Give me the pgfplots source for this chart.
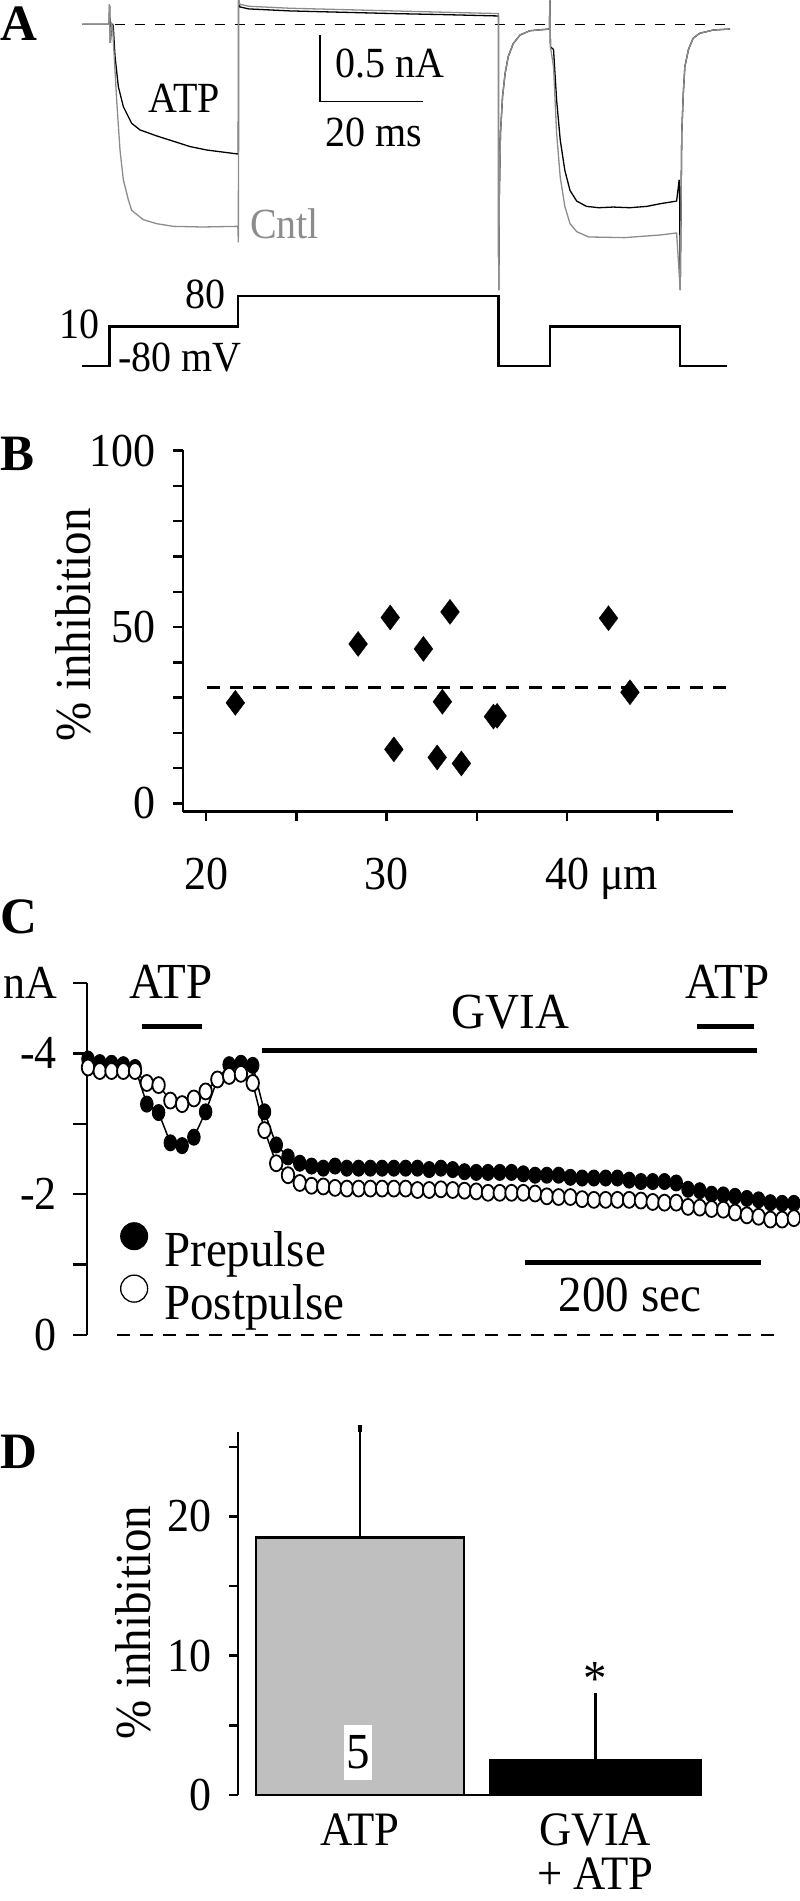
\documentclass[border=0pt]{standalone}
\usepackage{fontspec}
\setmainfont{Liberation Serif}[FakeStretch=0.93]
\newfontfamily\letterfont{Liberation Serif}
\usepackage{pgfplots}
\pgfplotsset{compat=1.18}

\newcommand\fA{\fontsize{43}{50}\selectfont}
\newcommand\fT{\fontsize{47.3}{55}\selectfont}
\newcommand\fL{\fontsize{50.5}{60}\selectfont}
\newcommand\fD{\fontsize{48}{56}\selectfont}
\newcommand\fP{\letterfont\fontsize{51}{58}\selectfont\bfseries}

\definecolor{trgray}{RGB}{140,140,140}
\definecolor{bargray}{RGB}{191,191,191}

\begin{document}
\begin{tikzpicture}
\useasboundingbox (0pt,0pt) rectangle (800pt,-1901pt);

% panel letters
\node[anchor=base west, inner sep=0pt, font=\fP] at (0pt,-40pt) {A};
\node[anchor=base west, inner sep=0pt, font=\fP] at (0pt,-470pt) {B};
\node[anchor=base west, inner sep=0pt, font=\fP] at (0pt,-933pt) {C};
\node[anchor=base west, inner sep=0pt, font=\fP] at (0pt,-1468pt) {D};

%================ Panel A: currents
\begin{axis}[at={(0pt,0pt)}, anchor=north west, scale only axis,
  width=800pt, height=300pt,
  xmin=-21.28, xmax=134.06, ymin=-2.074, ymax=0.182,
  axis lines=none, clip=false]
\addplot[black, line width=1.3pt, dash pattern=on 10pt off 10pt] coordinates {(1,0) (120.5,0)};
% ATP trace
\addplot[black, line width=1.3pt] coordinates {
(-5.3,0) (-0.1,0) (0,0.14) (0.15,-0.14) (0.4,0) (0.6,0) (0.72,-0.02) (1.05,-0.24) (1.7,-0.47)
(2.67,-0.62) (4.28,-0.745) (5.9,-0.795) (9.14,-0.84) (12.37,-0.88) (15.6,-0.92) (18.85,-0.946) (24.9,-0.976)
(25,-0.976) (25.05,0.18) (25.3,0.13) (27,0.115) (35,0.1) (45,0.09) (55,0.08) (65,0.072) (75.4,0.062)
(75.5,0.062) (75.55,-2.0) (75.67,-1.3) (75.9,-0.82) (76.3,-0.545) (76.8,-0.37) (77.4,-0.244) (78.4,-0.144)
(79.7,-0.081) (81.6,-0.049) (84.9,-0.038) (85.4,-0.036)
(85.5,0.18) (85.6,-0.17) (86.2,-0.19) (86.8,-0.57) (87.5,-0.87) (88.4,-1.10) (89.4,-1.25) (90.7,-1.33)
(92.6,-1.37) (95,-1.38) (97.8,-1.375) (101,-1.38) (104.3,-1.37) (106.9,-1.35) (110.1,-1.33) (110.6,-1.17)
(110.7,-1.33) (110.8,-2.0)
(111.1,-0.82) (111.4,-0.52) (111.7,-0.32) (112.4,-0.19) (113.3,-0.106) (114.6,-0.068) (117.2,-0.044) (120.5,-0.036)};
% Cntl trace
\addplot[trgray, line width=1.3pt] coordinates {
(-5.3,0) (-0.1,0) (-0.05,0.15) (0.1,-0.14) (0.4,0) (0.6,-0.02) (0.72,-0.12) (1.37,-0.57) (2.02,-0.946)
(2.67,-1.17) (3.64,-1.32) (4.28,-1.40) (6.55,-1.47) (9.14,-1.50) (12.37,-1.52) (18,-1.525) (24.9,-1.52)
(25,-1.64) (25.05,0.18) (25.3,0.15) (27,0.135) (35,0.12) (45,0.11) (55,0.10) (65,0.09) (75.4,0.08)
(75.5,0.08) (75.55,-2.0) (75.67,-1.3) (75.9,-0.82) (76.3,-0.545) (76.8,-0.37) (77.4,-0.244) (78.4,-0.144)
(79.7,-0.081) (81.6,-0.049) (84.9,-0.038) (85.4,-0.036)
(85.5,0.18) (85.6,-0.17) (86.2,-0.32) (86.8,-0.82) (87.5,-1.15) (88.4,-1.37) (89.4,-1.50) (90.7,-1.56)
(93,-1.60) (100,-1.605) (106.9,-1.585) (110.1,-1.57) (110.8,-2.0)
(111.1,-0.82) (111.4,-0.52) (111.7,-0.32) (112.4,-0.19) (113.3,-0.106) (114.6,-0.068) (117.2,-0.044) (120.5,-0.036)};
% scale bar
\addplot[black, line width=1.6pt] coordinates {(40.9,-0.081) (40.9,-0.581) (60.9,-0.581)};
\node[anchor=base, inner sep=0pt, font=\fA] at (axis cs:14.49,-0.665) {ATP};
\node[anchor=base, inner sep=0pt, font=\fA, text=trgray] at (axis cs:33.96,-1.608) {Cntl};
\node[anchor=base, inner sep=0pt, font=\fA] at (axis cs:54.35,-0.399) {0.5 nA};
\node[anchor=base, inner sep=0pt, font=\fA] at (axis cs:51.34,-0.921) {20 ms};
\end{axis}

%================ Panel A: voltage protocol
\begin{axis}[at={(0pt,-280pt)}, anchor=north west, scale only axis,
  width=800pt, height=100pt,
  xmin=-21.28, xmax=134.06, ymin=-111.8, ymax=115.45,
  axis lines=none, clip=false]
\addplot[black, line width=2.2pt] coordinates {
(-5.4,-80) (0,-80) (0,10) (25,10) (25,80) (75.5,80) (75.5,-80) (85.5,-80) (85.5,10) (110.8,10) (110.8,-80) (119.8,-80)};
\node[anchor=base east, inner sep=0pt, font=\fA] at (axis cs:22.6,51.1) {80};
\node[anchor=base east, inner sep=0pt, font=\fA] at (axis cs:-1.86,-17.0) {10};
\node[anchor=base west, inner sep=0pt, font=\fA] at (axis cs:1.63,-92.95) {-80 mV};
\end{axis}

%================ Panel B
\begin{axis}[at={(183pt,-811.7pt)}, anchor=south west, scale only axis,
  width=549.5pt, height=361.7pt,
  xmin=18.72, xmax=49.16, ymin=-2.38, ymax=100.2,
  axis x line*=bottom, axis y line*=left,
  x axis line style={-}, y axis line style={-},
  axis line style={line width=2.5pt},
  tick align=outside, major tick length=9.5pt,
  tick style={line width=2.5pt, black},
  xtick={20,25,...,45}, xticklabels={20,,30,,{40\rlap{\ μm}},},
  ytick={0,10,...,100}, yticklabels={0,,,,,50,,,,,100},
  ticklabel style={font=\fT, inner sep=0pt},
  yticklabel style={anchor=east, xshift=-18pt},
  xticklabel style={anchor=north, yshift=-37pt},
  ylabel={\% inhibition},
  every axis y label/.style={at={(axis description cs:-0.2002,0.5162)}, rotate=90, anchor=center, font=\fL},
  clip=false]
\addplot[black, line width=2.5pt, dash pattern=on 13pt off 10pt] coordinates {(20.05,32.8) (49.16,32.8)};
\addplot[only marks, mark=diamond*, mark size=12.5pt, black] coordinates {
(21.62,28.5) (28.42,45.2) (30.20,52.7) (30.40,15.3) (32.04,43.8) (33.51,54.3) (33.09,28.8)
(32.80,13.0) (34.14,11.3) (35.92,24.6) (36.12,24.8) (42.29,52.5) (43.48,31.5)};
\end{axis}

%================ Panel C
\begin{axis}[at={(87pt,-1335pt)}, anchor=south west, scale only axis,
  width=713pt, height=352pt,
  xmin=-0.85, xmax=605.2, ymin=-5, ymax=0, y dir=reverse,
  axis x line=none, axis y line*=left, y axis line style={-},
  axis line style={line width=2.2pt},
  tick align=outside, major tick length=14pt,
  tick style={line width=2.5pt, black},
  ytick={-5,-4,-3,-2,-1,0}, yticklabels={nA,-4,,-2,,0},
  yticklabel style={font=\fT, inner sep=0pt, anchor=east, xshift=-16pt},
  legend cell align=left,
  legend style={draw=none, fill=none, at={(0.0463,0.3205)}, anchor=north west,
    inner sep=0pt, outer sep=0pt, row sep=6pt, font=\fL,
    nodes={inner sep=0pt},
    /tikz/every odd column/.append style={column sep=16pt}},
  clip=false]
\addplot[black, line width=2pt, dash pattern=on 13pt off 10pt, forget plot] coordinates {(24.6,0) (586,0)};
\addplot[black, line width=5pt, forget plot] coordinates {(45.9,-4.379) (96.9,-4.379)};
\addplot[black, line width=5pt, forget plot] coordinates {(517.6,-4.379) (566.5,-4.379)};
\addplot[black, line width=5pt, forget plot] coordinates {(147.9,-4.038) (568.6,-4.038)};
\addplot[black, line width=5pt, forget plot] coordinates {(371.4,-1.027) (571.7,-1.027)};
\node[anchor=base, inner sep=0pt, font=\fL] at (axis cs:70.5,-4.787) {ATP};
\node[anchor=base, inner sep=0pt, font=\fL] at (axis cs:543.6,-4.787) {ATP};
\node[anchor=base, inner sep=0pt, font=\fL] at (axis cs:359.1,-4.361) {GVIA};
\node[anchor=base, inner sep=0pt, font=\fL] at (axis cs:460.7,-0.341) {200 sec};
% Prepulse
\addplot[black, line width=1.5pt, mark=*, mark size=8pt, mark options={xscale=0.78, fill=black, line width=1pt}, forget plot] coordinates {
(0,-3.92) (10,-3.87) (20,-3.86) (30,-3.84) (40,-3.80) (50,-3.28) (60,-3.16) (70,-2.73) (80,-2.69) (90,-2.81)
(100,-3.17) (110,-3.63) (120,-3.84) (130,-3.86) (140,-3.83) (150,-3.17) (160,-2.70) (170,-2.53) (180,-2.44) (190,-2.40)
(200,-2.37) (210,-2.40) (220,-2.37) (230,-2.37) (240,-2.37) (250,-2.37) (260,-2.37) (270,-2.37) (280,-2.37) (290,-2.35)
(300,-2.37) (310,-2.35) (320,-2.32) (330,-2.31) (340,-2.31) (350,-2.31) (360,-2.31) (370,-2.29) (380,-2.27) (390,-2.27)
(400,-2.27) (410,-2.24) (420,-2.23) (430,-2.23) (440,-2.23) (450,-2.23) (460,-2.20) (470,-2.18) (480,-2.18) (490,-2.18)
(500,-2.16) (510,-2.07) (520,-2.05) (530,-2.00) (540,-1.99) (550,-1.97) (560,-1.94) (570,-1.92) (580,-1.88) (590,-1.87)
(600,-1.87)};
% Postpulse
\addplot[black, line width=1.5pt, mark=*, mark size=8pt, mark options={xscale=0.78, fill=white, line width=1.8pt}, forget plot] coordinates {
(0,-3.80) (10,-3.75) (20,-3.75) (30,-3.75) (40,-3.75) (50,-3.58) (60,-3.55) (70,-3.33) (80,-3.28) (90,-3.36)
(100,-3.46) (110,-3.63) (120,-3.68) (130,-3.71) (140,-3.58) (150,-2.91) (160,-2.44) (170,-2.27) (180,-2.16) (190,-2.12)
(200,-2.11) (210,-2.09) (220,-2.08) (230,-2.08) (240,-2.08) (250,-2.08) (260,-2.08) (270,-2.08) (280,-2.06) (290,-2.06)
(300,-2.07) (310,-2.06) (320,-2.05) (330,-2.04) (340,-2.02) (350,-2.02) (360,-2.02) (370,-2.02) (380,-2.01) (390,-1.97)
(400,-1.96) (410,-1.96) (420,-1.93) (430,-1.92) (440,-1.92) (450,-1.92) (460,-1.92) (470,-1.91) (480,-1.89) (490,-1.88)
(500,-1.88) (510,-1.82) (520,-1.81) (530,-1.79) (540,-1.78) (550,-1.74) (560,-1.70) (570,-1.68) (580,-1.64) (590,-1.64)
(600,-1.66)};
\addlegendimage{legend image code/.code={\draw[black, fill=black, line width=1pt] (0pt,14pt) circle[radius=13.5pt];}}
\addlegendentry{Prepulse}
\addlegendimage{legend image code/.code={\draw[black, fill=white, line width=1.3pt] (0pt,14pt) circle[radius=13.5pt];}}
\addlegendentry{Postpulse}
\end{axis}

%================ Panel D
\begin{axis}[at={(238pt,-1795pt)}, anchor=south west, scale only axis,
  width=498.6pt, height=363.3pt,
  xmin=-0.5183, xmax=1.6, ymin=0, ymax=26.08,
  axis x line*=bottom, axis y line*=left,
  x axis line style={draw=none}, y axis line style={-},
  axis line style={line width=2.5pt},
  tick align=outside, major tick length=9pt,
  ytick={0,5,...,25}, yticklabels={0,,10,,20,},
  ytick style={line width=2.5pt, black},
  xtick={0,1}, xticklabels={ATP,GVIA},
  xtick style={draw=none},
  yticklabel style={font=\fT, inner sep=0pt, anchor=east, xshift=-17pt},
  xticklabel style={font=\fD, inner sep=0pt, anchor=base, yshift=-41pt},
  ylabel={\% inhibition},
  every axis y label/.style={at={(axis description cs:-0.2106,0.4743)}, rotate=90, anchor=center, font=\fL},
  clip=false]
\addplot[black, line width=2.5pt] coordinates {(-0.443,0) (1.448,0)};
\addplot[ybar, bar width=0.885, bar shift=0pt, fill=bargray, draw=black, line width=2.5pt,
  error bars/.cd, y dir=plus, y explicit,
  error bar style={line width=2.5pt, black},
  error mark options={line width=3.5pt, mark size=3.5pt, black}]
  coordinates {(0,18.48) +- (0,7.82)};
\addplot[ybar, bar width=0.895, bar shift=0pt, fill=black, draw=black, line width=2.5pt,
  error bars/.cd, y dir=plus, y explicit,
  error bar style={line width=2.5pt, black},
  error mark options={line width=3.5pt, mark size=3.5pt, black}]
  coordinates {(1,2.51) +- (0,4.55)};
\node[fill=white, inner xsep=2.3pt, inner ysep=11pt, font=\fL] at (axis cs:-0.008,3.05) {5};
\node[anchor=base, inner sep=0pt, font=\fL] at (axis cs:1,7.17) {*};
% second line of the GVIA category label
\node[anchor=base, inner sep=0pt, font=\fD] at (axis cs:1,-6.75) {+ ATP};
\end{axis}
\end{tikzpicture}
\end{document}
